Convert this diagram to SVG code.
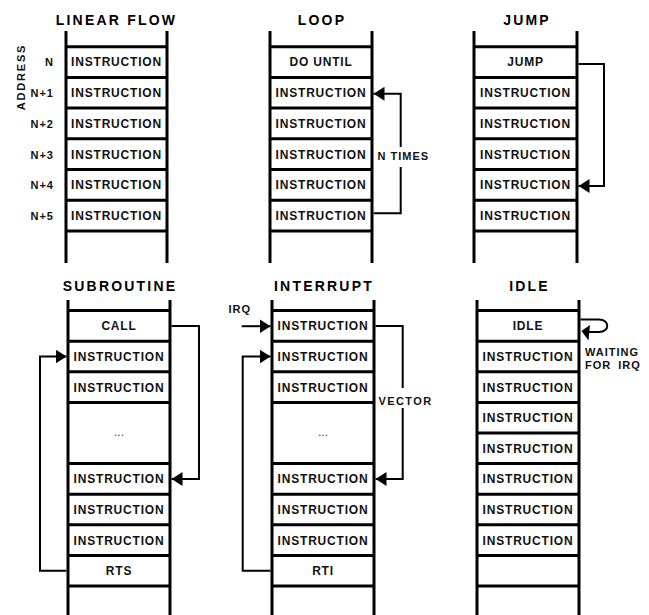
<svg xmlns="http://www.w3.org/2000/svg" width="649" height="615" viewBox="0 0 649 615">
<style>
.rail{stroke:#000;stroke-width:3;fill:none}
.conn{stroke:#000;stroke-width:2;fill:none}
.title{font-family:"Liberation Sans",Arial,sans-serif;font-weight:bold;font-size:14px;letter-spacing:2.2px;text-anchor:middle;fill:#000}
.cell{font-family:"Liberation Sans",Arial,sans-serif;font-weight:bold;font-size:12px;letter-spacing:0.8px;text-anchor:middle;fill:#111}
.lbl{font-family:"Liberation Sans",Arial,sans-serif;font-weight:bold;font-size:11px;letter-spacing:1px;fill:#111}
.addr{text-anchor:end}
.dots{font-family:"Liberation Sans",Arial,sans-serif;font-size:12px;text-anchor:middle;fill:#444}
</style>
<defs>
<marker id="ah" viewBox="0 0 11 14" refX="11" refY="7" markerWidth="11" markerHeight="14" markerUnits="userSpaceOnUse" orient="auto">
<path d="M0,0 L11,7 L0,14 z" fill="#000"/>
</marker>
</defs>
<rect width="649" height="615" fill="#fff"/>

<!-- LINEAR FLOW -->
<g id="linear-flow">
<text class="title" x="116.5" y="25">LINEAR FLOW</text>
<path class="rail" d="M66,31 V263 M167,31 V263 M66,46.7 H167 M66,77.4 H167 M66,108.1 H167 M66,138.8 H167 M66,169.5 H167 M66,200.2 H167 M66,230.9 H167"/>
<g id="lf-n"><text class="cell" x="116.5" y="66.4">INSTRUCTION</text></g>
<g id="lf-n1"><text class="cell" x="116.5" y="97.1">INSTRUCTION</text></g>
<g id="lf-n2"><text class="cell" x="116.5" y="127.8">INSTRUCTION</text></g>
<g id="lf-n3"><text class="cell" x="116.5" y="158.5">INSTRUCTION</text></g>
<g id="lf-n4"><text class="cell" x="116.5" y="189.2">INSTRUCTION</text></g>
<g id="lf-n5"><text class="cell" x="116.5" y="219.9">INSTRUCTION</text></g>
</g>
<g id="address-labels">
<text class="lbl" transform="translate(24.5,77) rotate(-90)" text-anchor="middle" style="letter-spacing:1.8px">ADDRESS</text>
<text class="lbl addr" x="54" y="66.4">N</text>
<text class="lbl addr" x="54" y="97.1">N+1</text>
<text class="lbl addr" x="54" y="127.8">N+2</text>
<text class="lbl addr" x="54" y="158.5">N+3</text>
<text class="lbl addr" x="54" y="189.2">N+4</text>
<text class="lbl addr" x="54" y="219.9">N+5</text>
</g>

<!-- LOOP -->
<g id="loop">
<text class="title" x="322" y="25">LOOP</text>
<path class="rail" d="M270,31 V263 M372,31 V263 M270,46.7 H372 M270,77.4 H372 M270,108.1 H372 M270,138.8 H372 M270,169.5 H372 M270,200.2 H372 M270,230.9 H372"/>
<g id="loop-do"><text class="cell" x="321" y="66.4">DO UNTIL</text></g>
<g id="loop-i1"><text class="cell" x="321" y="97.1">INSTRUCTION</text></g>
<g id="loop-i2"><text class="cell" x="321" y="127.8">INSTRUCTION</text></g>
<g id="loop-i3"><text class="cell" x="321" y="158.5">INSTRUCTION</text></g>
<g id="loop-i4"><text class="cell" x="321" y="189.2">INSTRUCTION</text></g>
<g id="loop-i5"><text class="cell" x="321" y="219.9">INSTRUCTION</text></g>
</g>

<!-- JUMP -->
<g id="jump">
<text class="title" x="527" y="25">JUMP</text>
<path class="rail" d="M474,31 V263 M577,31 V263 M474,46.7 H577 M474,77.4 H577 M474,108.1 H577 M474,138.8 H577 M474,169.5 H577 M474,200.2 H577 M474,230.9 H577"/>
<g id="jump-j"><text class="cell" x="525.5" y="66.4">JUMP</text></g>
<g id="jump-i1"><text class="cell" x="525.5" y="97.1">INSTRUCTION</text></g>
<g id="jump-i2"><text class="cell" x="525.5" y="127.8">INSTRUCTION</text></g>
<g id="jump-i3"><text class="cell" x="525.5" y="158.5">INSTRUCTION</text></g>
<g id="jump-i4"><text class="cell" x="525.5" y="189.2">INSTRUCTION</text></g>
<g id="jump-i5"><text class="cell" x="525.5" y="219.9">INSTRUCTION</text></g>
</g>

<!-- SUBROUTINE -->
<g id="subroutine">
<text class="title" x="120" y="290.7">SUBROUTINE</text>
<path class="rail" d="M68,300 V615 M170,300 V615 M68,310.6 H170 M68,341.2 H170 M68,371.8 H170 M68,402.4 H170 M68,463.6 H170 M68,494.2 H170 M68,524.8 H170 M68,555.4 H170 M68,586 H170"/>
<g id="sub-call"><text class="cell" x="119" y="330.3">CALL</text></g>
<g id="sub-i1"><text class="cell" x="119" y="360.9">INSTRUCTION</text></g>
<g id="sub-i2"><text class="cell" x="119" y="391.5">INSTRUCTION</text></g>
<g id="sub-dots"><text class="dots" x="119" y="436">...</text></g>
<g id="sub-i3"><text class="cell" x="119" y="483.3">INSTRUCTION</text></g>
<g id="sub-i4"><text class="cell" x="119" y="513.9">INSTRUCTION</text></g>
<g id="sub-i5"><text class="cell" x="119" y="544.5">INSTRUCTION</text></g>
<g id="sub-rts"><text class="cell" x="119" y="575.1">RTS</text></g>
</g>

<!-- INTERRUPT -->
<g id="interrupt">
<text class="title" x="324" y="290.7">INTERRUPT</text>
<path class="rail" d="M272,300 V615 M374,300 V615 M272,310.6 H374 M272,341.2 H374 M272,371.8 H374 M272,402.4 H374 M272,463.6 H374 M272,494.2 H374 M272,524.8 H374 M272,555.4 H374 M272,586 H374"/>
<g id="int-i1"><text class="cell" x="323" y="330.3">INSTRUCTION</text></g>
<g id="int-i2"><text class="cell" x="323" y="360.9">INSTRUCTION</text></g>
<g id="int-i3"><text class="cell" x="323" y="391.5">INSTRUCTION</text></g>
<g id="int-dots"><text class="dots" x="323" y="436">...</text></g>
<g id="int-i4"><text class="cell" x="323" y="483.3">INSTRUCTION</text></g>
<g id="int-i5"><text class="cell" x="323" y="513.9">INSTRUCTION</text></g>
<g id="int-i6"><text class="cell" x="323" y="544.5">INSTRUCTION</text></g>
<g id="int-rti"><text class="cell" x="323" y="575.1">RTI</text></g>
</g>

<!-- IDLE -->
<g id="idle">
<text class="title" x="529.5" y="290.7">IDLE</text>
<path class="rail" d="M477,300 V615 M579,300 V615 M477,310.6 H579 M477,341.2 H579 M477,371.8 H579 M477,402.4 H579 M477,433 H579 M477,463.6 H579 M477,494.2 H579 M477,524.8 H579 M477,555.4 H579 M477,586 H579"/>
<g id="idle-idle"><text class="cell" x="528" y="330.3">IDLE</text></g>
<g id="idle-i1"><text class="cell" x="528" y="360.9">INSTRUCTION</text></g>
<g id="idle-i2"><text class="cell" x="528" y="391.5">INSTRUCTION</text></g>
<g id="idle-i3"><text class="cell" x="528" y="422.1">INSTRUCTION</text></g>
<g id="idle-i4"><text class="cell" x="528" y="452.7">INSTRUCTION</text></g>
<g id="idle-i5"><text class="cell" x="528" y="483.3">INSTRUCTION</text></g>
<g id="idle-i6"><text class="cell" x="528" y="513.9">INSTRUCTION</text></g>
<g id="idle-i7"><text class="cell" x="528" y="544.5">INSTRUCTION</text></g>
</g>

<!-- CONNECTORS -->
<g id="connectors">
<path class="conn" d="M373.5,213.3 H400.7 V93.8 H373.5" marker-end="url(#ah)"/>
<path class="conn" d="M578.5,64 H604 V186 H578.5" marker-end="url(#ah)"/>
<path class="conn" d="M171.5,325.9 H199 V479 H171.5" marker-end="url(#ah)"/>
<path class="conn" d="M66.5,570.7 H40 V356.5 H66.5" marker-end="url(#ah)"/>
<path class="conn" d="M241.7,326.2 H270.5" marker-end="url(#ah)"/>
<path class="conn" d="M270.5,570.7 H242.7 V356.5 H270.5" marker-end="url(#ah)"/>
<path class="conn" d="M375.5,325.9 H402.7 V479 H375.5" marker-end="url(#ah)"/>
<path class="conn" d="M580.5,319.5 H599 C610,319.5 610,332 599,332 H588"/>
<polygon points="581.5,331 590,325 588.5,340.5" fill="#000"/>
</g>

<!-- CONNECTOR LABELS -->
<g id="connector-labels">
<rect x="376" y="147" width="52" height="20" fill="#fff"/>
<text class="lbl" x="377.5" y="160">N TIMES</text>
<rect x="377" y="388" width="58" height="20" fill="#fff"/>
<text class="lbl" x="378.5" y="405" style="letter-spacing:1.4px">VECTOR</text>
<text class="lbl" x="228.5" y="313">IRQ</text>
<text class="lbl" x="585" y="356">WAITING</text>
<text class="lbl" x="585" y="369" style="word-spacing:3px">FOR IRQ</text>
</g>
</svg>
